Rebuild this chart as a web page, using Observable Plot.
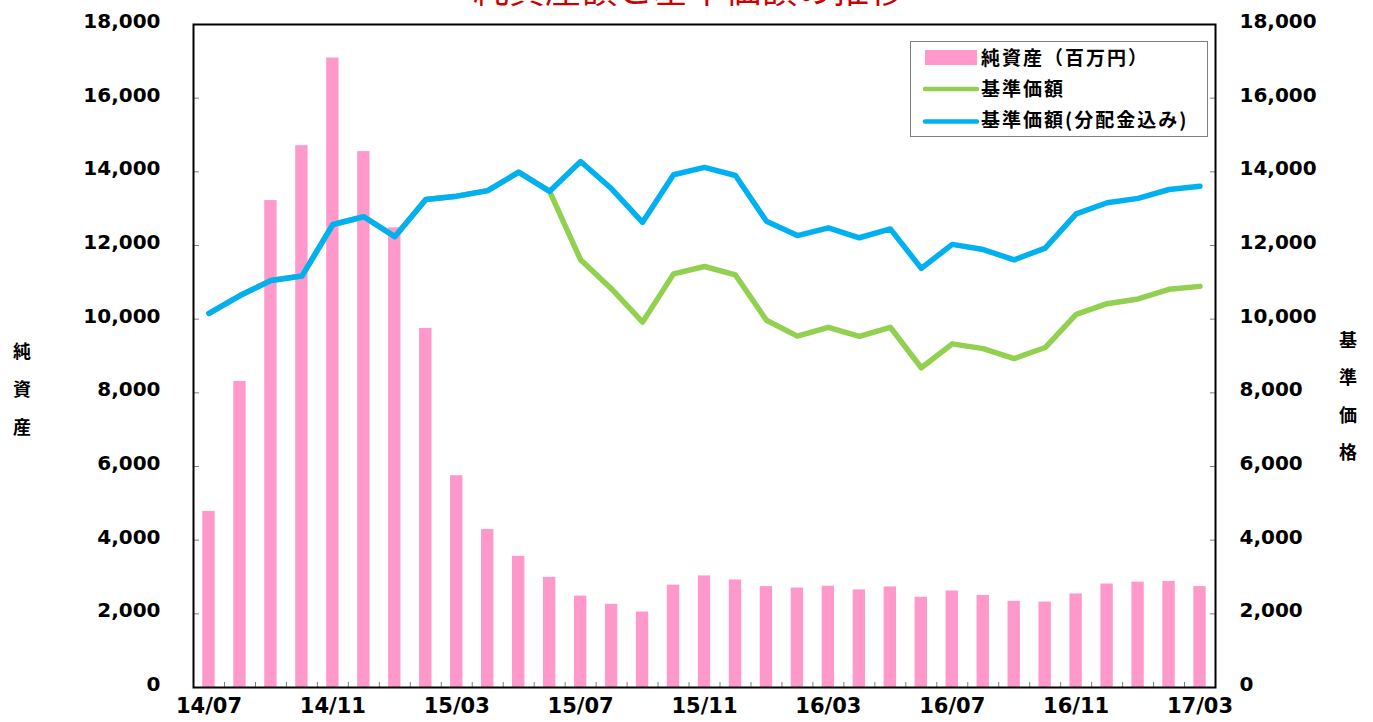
<!DOCTYPE html>
<html>
<head>
<meta charset="utf-8">
<script src="https://cdn.jsdelivr.net/npm/d3@7"></script>
<script src="https://cdn.jsdelivr.net/npm/@observablehq/plot@0.6"></script>
<style>
  html, body { margin: 0; padding: 0; background: #fff; }
  #wrap { position: relative; width: 1373px; height: 722px; overflow: hidden; }
  #wrap svg { position: absolute; left: 0; top: 0; }
</style>
</head>
<body>
<div id="wrap"></div>
<script>
// ---- data ----
const months = ["14/07","14/08","14/09","14/10","14/11","14/12","15/01","15/02","15/03","15/04","15/05","15/06",
  "15/07","15/08","15/09","15/10","15/11","15/12","16/01","16/02","16/03","16/04","16/05","16/06",
  "16/07","16/08","16/09","16/10","16/11","16/12","17/01","17/02","17/03"];
const netAssets = [4780, 8310, 13220, 14710, 17090, 14550, 12480, 9750, 5750, 4290, 3560, 2990,
  2480, 2260, 2050, 2780, 3030, 2920, 2740, 2700, 2750, 2650, 2730, 2450,
  2620, 2500, 2340, 2320, 2540, 2810, 2860, 2880, 2740];
const navWithDiv = [10160, 10640, 11050, 11170, 12570, 12780, 12240, 13250, 13340, 13490, 13990, 13470,
  14280, 13540, 12630, 13920, 14120, 13900, 12660, 12270, 12480, 12210, 12450, 11380,
  12030, 11890, 11610, 11930, 12860, 13160, 13280, 13520, 13610];
const nav = [10160, 10640, 11050, 11170, 12570, 12780, 12240, 13250, 13340, 13490, 13990, 13470,
  11610, 10820, 9920, 11230, 11430, 11200, 9970, 9540, 9780, 9530, 9780, 8680,
  9330, 9200, 8930, 9230, 10130, 10420, 10550, 10810, 10890];
const xLabels = ["14/07","14/11","15/03","15/07","15/11","16/03","16/07","16/11","17/03"];
const yTicks = [0, 2000, 4000, 6000, 8000, 10000, 12000, 14000, 16000, 18000];
const titleText = "純資産額と基準価額の推移";
const leftTitle = ["純","資","産"];
const rightTitle = ["基","準","価","格"];
const legendLabels = ["純資産（百万円）", "基準価額", "基準価額(分配金込み)"];
const colors = {bar: "#FF99CC", nav: "#92D050", navDiv: "#00B0F0", title: "#CC0000"};

const rows = months.map((m, i) => ({month: m, assets: netAssets[i], nav: nav[i], navDiv: navWithDiv[i]}));
const fmt = d3.format(",");

const chart = Plot.plot({
  width: 1373, height: 722,
  marginLeft: 193, marginRight: 158, marginTop: 24, marginBottom: 35,
  style: {fontFamily: "'DejaVu Sans', Verdana, sans-serif", fontSize: "20px", fontWeight: "bold", color: "black", background: "transparent", overflow: "visible"},
  x: {type: "band", domain: months, paddingInner: 0.6, paddingOuter: 0.3},
  y: {domain: [0, 18000]},
  marks: [
    Plot.barY(rows, {x: "month", y: "assets", fill: colors.bar}),
    Plot.line(rows, {x: "month", y: "nav", stroke: colors.nav, strokeWidth: 5.5}),
    Plot.line(rows, {x: "month", y: "navDiv", stroke: colors.navDiv, strokeWidth: 5.5}),
    Plot.axisY({anchor: "left", ticks: yTicks, tickSize: 0, tickPadding: 33, dy: -3, tickFormat: fmt, label: null}),
    Plot.axisY({anchor: "left", ticks: yTicks, text: null, tickSize: 6, dx: 6, stroke: "#808080", label: null}),
    Plot.axisY({anchor: "right", ticks: yTicks, tickSize: 0, tickPadding: 24, dy: -3, tickFormat: fmt, label: null}),
    Plot.axisY({anchor: "right", ticks: yTicks, text: null, tickSize: 6, dx: -6, stroke: "#808080", label: null}),
    Plot.axisX({ticks: xLabels, tickSize: 0, tickPadding: 11, fontSize: 21, label: null}),
    Plot.axisX({ticks: months.slice(0, -1), text: null, tickSize: 5, dy: -5, dx: 15.5, stroke: "#808080", label: null}),
    Plot.frame({stroke: "black", strokeWidth: 2})
  ]
});
document.getElementById("wrap").appendChild(chart);

// ---- overlay: title, axis titles, legend ----
const ov = d3.select("#wrap").append("svg")
  .attr("width", 1373).attr("height", 722)
  .style("font-family", "'Noto Sans CJK JP', sans-serif");

ov.append("text").attr("x", 689).attr("y", 3).attr("text-anchor", "middle")
  .attr("font-size", 36).attr("fill", colors.title).text(titleText);

leftTitle.forEach((c, i) => {
  ov.append("text").attr("x", 22).attr("y", 350 + i * 38).attr("text-anchor", "middle")
    .attr("dominant-baseline", "central").attr("font-size", 18).attr("font-weight", "bold").text(c);
});
rightTitle.forEach((c, i) => {
  ov.append("text").attr("x", 1348).attr("y", 339 + i * 37.3).attr("text-anchor", "middle")
    .attr("dominant-baseline", "central").attr("font-size", 18).attr("font-weight", "bold").text(c);
});

const lg = ov.append("g");
lg.append("rect").attr("x", 910.5).attr("y", 41.5).attr("width", 297).attr("height", 95)
  .attr("fill", "white").attr("stroke", "#808080");
lg.append("rect").attr("x", 925).attr("y", 50).attr("width", 52).attr("height", 15).attr("fill", colors.bar);
lg.append("line").attr("x1", 925).attr("x2", 977).attr("y1", 89).attr("y2", 89)
  .attr("stroke", colors.nav).attr("stroke-width", 4.5).attr("stroke-linecap", "round");
lg.append("line").attr("x1", 925).attr("x2", 977).attr("y1", 121.5).attr("y2", 121.5)
  .attr("stroke", colors.navDiv).attr("stroke-width", 4.5).attr("stroke-linecap", "round");
[56, 87, 118].forEach((y, i) => {
  lg.append("text").attr("x", 981).attr("y", y).attr("dominant-baseline", "central")
    .attr("font-size", 19).attr("font-weight", "bold").attr("letter-spacing", "2px").text(legendLabels[i]);
});
</script>
</body>
</html>
